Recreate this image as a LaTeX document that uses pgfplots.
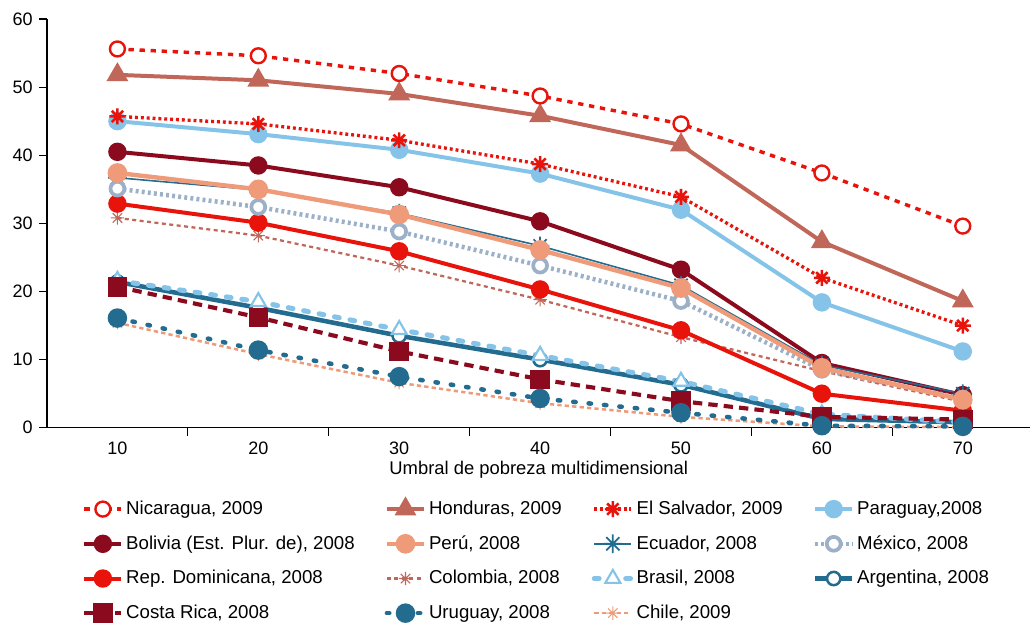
\documentclass[border=0pt]{standalone}
\usepackage{fontspec}
\setmainfont{Liberation Sans}
\usepackage{pgfplots}
\pgfplotsset{compat=1.18}
\usepackage{pgfplotstable}

\definecolor{cRed}{HTML}{E8140C}
\definecolor{cBrown}{HTML}{C0675A}
\definecolor{cLBlue}{HTML}{85C4E8}
\definecolor{cDRed}{HTML}{8C0A1E}
\definecolor{cSalmon}{HTML}{EF9A78}
\definecolor{cTeal}{HTML}{236B8F}
\definecolor{cGrey}{HTML}{9CB0C8}

\pgfdeclareplotmark{ast8}{%
  \pgfpathmoveto{\pgfqpoint{-\pgfplotmarksize}{0pt}}\pgfpathlineto{\pgfqpoint{\pgfplotmarksize}{0pt}}%
  \pgfpathmoveto{\pgfqpoint{0pt}{-\pgfplotmarksize}}\pgfpathlineto{\pgfqpoint{0pt}{\pgfplotmarksize}}%
  \pgfpathmoveto{\pgfqpoint{-0.7071\pgfplotmarksize}{-0.7071\pgfplotmarksize}}\pgfpathlineto{\pgfqpoint{0.7071\pgfplotmarksize}{0.7071\pgfplotmarksize}}%
  \pgfpathmoveto{\pgfqpoint{-0.7071\pgfplotmarksize}{0.7071\pgfplotmarksize}}\pgfpathlineto{\pgfqpoint{0.7071\pgfplotmarksize}{-0.7071\pgfplotmarksize}}%
  \pgfusepathqstroke}

\pgfplotstableread{
x Nic Hon Sal Par Bol Per Ecu Mex Dom Col Bra Arg Cos Uru Chi
0 55.6 51.8 45.7 45.0 40.5 37.4 36.7 35.1 32.9 30.8 21.6 21.4 20.7 16.1 15.4
1 54.6 51.0 44.6 43.1 38.5 35.0 34.9 32.4 30.1 28.2 18.5 17.6 16.2 11.4 10.8
2 52.0 49.0 42.2 40.8 35.3 31.3 31.5 28.8 25.9 23.8 14.4 13.5 11.2 7.5 6.6
3 48.7 45.8 38.7 37.3 30.3 26.1 26.7 23.8 20.3 18.8 10.6 10.0 7.1 4.3 3.6
4 44.6 41.5 33.9 32.0 23.2 20.5 20.9 18.6 14.3 13.3 6.8 6.3 3.9 2.2 1.6
5 37.4 27.3 22.0 18.4 9.5 8.8 9.2 8.5 5.0 8.3 2.0 1.3 1.6 0.3 0.2
6 29.6 18.6 15.0 11.2 4.8 4.1 5.0 4.3 2.5 3.8 0.8 0.8 1.2 0.2 0.1
}\data

\pgfplotsset{
  sNic/.style={color=cRed, line width=2.6pt, dash pattern=on 4pt off 4.3pt, mark=*, mark size=5.6pt, mark options={solid, fill=white, draw=cRed, line width=1.8pt}},
  sHon/.style={color=cBrown, line width=3pt, solid, mark=triangle*, mark size=6.5pt, mark options={solid, fill=cBrown}},
  sSal/.style={color=cRed, line width=2.5pt, dash pattern=on 2.2pt off 2.2pt, mark=ast8, mark size=6pt, mark options={solid, line width=1.9pt}},
  sPar/.style={color=cLBlue, line width=3pt, solid, mark=*, mark size=5.4pt, mark options={solid, fill=cLBlue}},
  sBol/.style={color=cDRed, line width=3pt, solid, mark=*, mark size=5.4pt, mark options={solid, fill=cDRed}},
  sPer/.style={color=cSalmon, line width=3.3pt, solid, mark=*, mark size=5.7pt, mark options={solid, fill=cSalmon}},
  sEcu/.style={color=cTeal, line width=1.2pt, solid, mark=ast8, mark size=7pt, mark options={solid, line width=1.3pt}},
  sMex/.style={color=cGrey, line width=3.4pt, dash pattern=on 2.2pt off 2.4pt, mark=*, mark size=5.2pt, mark options={solid, fill=white, draw=cGrey, line width=2.8pt}},
  sDom/.style={color=cRed, line width=3pt, solid, mark=*, mark size=5.4pt, mark options={solid, fill=cRed}},
  sCol/.style={color=cBrown, line width=1.7pt, dash pattern=on 3pt off 2.6pt, mark=ast8, mark size=5pt, mark options={solid, line width=0.8pt}},
  sBra/.style={color=cLBlue, line width=3.8pt, line cap=round, dash pattern=on 3.6pt off 8.2pt, mark=triangle*, mark size=6.5pt, mark options={solid, fill=white, draw=cLBlue, line width=1.6pt}},
  sArg/.style={color=cTeal, line width=3.4pt, solid, mark=*, mark size=5pt, mark options={solid, fill=white, draw=cTeal, line width=1.9pt}},
  sCos/.style={color=cDRed, line width=3.1pt, dash pattern=on 7pt off 4.6pt, mark=square*, mark size=5.8pt, mark options={solid, fill=cDRed}},
  sUru/.style={color=cTeal, line width=3.4pt, line cap=round, dash pattern=on 1.8pt off 9.8pt, mark=*, mark size=5.6pt, mark options={solid, fill=cTeal}},
  sChi/.style={color=cSalmon, line width=1.9pt, dash pattern=on 3.2pt off 2.4pt, mark=ast8, mark size=5pt, mark options={solid, line width=0.8pt}},
}

\begin{document}
\fontsize{13.5pt}{16pt}\selectfont
\begin{tikzpicture}
\begin{axis}[
  scale only axis,
  width=738pt, height=306.75pt,
  xmin=-0.5, xmax=6.48, ymin=0, ymax=60,
  axis x line=bottom, axis y line=left,
  axis line style={-, line width=0.9pt, black},
  xtick={0,...,6}, xticklabels={10,20,30,40,50,60,70},
  xtick style={draw=none},
  extra x ticks={0.5,1.5,2.5,3.5,4.5,5.5},
  extra x tick labels={},
  extra x tick style={xtick style={draw=black, line width=0.9pt}},
  ytick={0,10,...,60},
  ytick style={line width=0.9pt, black},
  tick align=outside,
  major tick length=6pt,
  /pgf/number format/assume math mode=true,
  tick label style={font=\fontsize{13.5pt}{16pt}\selectfont},
  xlabel={Umbral de pobreza multidimensional},
  xlabel style={font=\fontsize{13.8pt}{16pt}\selectfont, yshift=16.5pt},
  clip=false,
  legend columns=4,
  legend cell align=left,
  legend image code/.code={\draw[mark repeat=2,mark phase=2] plot coordinates {(0cm,0cm) (0.49cm,0cm) (0.98cm,0cm)};},
  legend style={draw=none, fill=none, inner sep=0pt, at={(0.0356,-0.172)}, anchor=north west,
    font=\fontsize{14pt}{16pt}\selectfont,
    /tikz/every even column/.append style={column sep=20.5pt},
    /tikz/row sep=9.8pt},
]
\addlegendimage{sNic}\addlegendentry{Nicaragua, 2009}
\addlegendimage{sHon}\addlegendentry{Honduras, 2009}
\addlegendimage{sSal}\addlegendentry{El Salvador, 2009}
\addlegendimage{sPar}\addlegendentry{Paraguay,2008}
\addlegendimage{sBol}\addlegendentry{Bolivia (Est. Plur. de), 2008}
\addlegendimage{sPer}\addlegendentry{Perú, 2008}
\addlegendimage{sEcu}\addlegendentry{Ecuador, 2008}
\addlegendimage{sMex}\addlegendentry{México, 2008}
\addlegendimage{sDom}\addlegendentry{Rep. Dominicana, 2008}
\addlegendimage{sCol}\addlegendentry{Colombia, 2008}
\addlegendimage{sBra}\addlegendentry{Brasil, 2008}
\addlegendimage{sArg}\addlegendentry{Argentina, 2008}
\addlegendimage{sCos}\addlegendentry{Costa Rica, 2008}
\addlegendimage{sUru}\addlegendentry{Uruguay, 2008}
\addlegendimage{sChi}\addlegendentry{Chile, 2009}

\addplot[sCol, forget plot] table[x=x, y=Col] {\data};
\addplot[sDom, forget plot] table[x=x, y=Dom] {\data};
\addplot[sChi, forget plot] table[x=x, y=Chi] {\data};
\addplot[sArg, forget plot] table[x=x, y=Arg] {\data};
\addplot[sBra, forget plot] table[x=x, y=Bra] {\data};
\addplot[sCos, forget plot] table[x=x, y=Cos] {\data};
\addplot[sUru, forget plot] table[x=x, y=Uru] {\data};
\addplot[sBol, forget plot] table[x=x, y=Bol] {\data};
\addplot[sEcu, forget plot] table[x=x, y=Ecu] {\data};
\addplot[sMex, forget plot] table[x=x, y=Mex] {\data};
\addplot[sPer, forget plot] table[x=x, y=Per] {\data};
\addplot[sPar, forget plot] table[x=x, y=Par] {\data};
\addplot[sSal, forget plot] table[x=x, y=Sal] {\data};
\addplot[sHon, forget plot] table[x=x, y=Hon] {\data};
\addplot[sNic, forget plot] table[x=x, y=Nic] {\data};
\end{axis}
\path (-35.25pt,-145.5pt) rectangle (738pt,321pt);
\end{tikzpicture}
\end{document}
